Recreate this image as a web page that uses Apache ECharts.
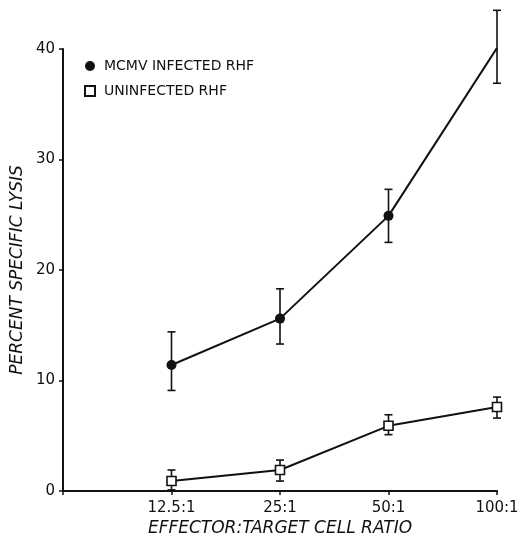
<!DOCTYPE html>
<html>
<head>
<meta charset="utf-8">
<script src="https://cdn.jsdelivr.net/npm/echarts@6/dist/echarts.min.js"></script>
<style>
  html, body { margin: 0; padding: 0; background: #fff; }
  #chart { width: 517px; height: 539px; }
</style>
</head>
<body>
<div id="chart"></div>
<script>
// ratios along the x axis (drawn at positions 1..4)
const ratioLabels = ['12.5:1', '25:1', '50:1', '100:1'];

// MCMV infected RHF
const infected = [11.4, 15.6, 24.9, 40.1];
const infectedLow = [9.1, 13.3, 22.5, 36.9];
const infectedHigh = [14.4, 18.3, 27.3, 43.5];

// uninfected RHF
const uninfected = [0.9, 1.9, 5.9, 7.6];
const uninfectedLow = [0.1, 0.9, 5.1, 6.6];
const uninfectedHigh = [1.9, 2.8, 6.9, 8.5];

const yTicks = [0, 10, 20, 30, 40];

const font = 'DejaVu Sans';
const ink = '#111';

const toPoints = vals => vals.map((v, i) => [i + 1, v]);
const toBars = (lo, hi) => lo.map((v, i) => [i + 1, v, hi[i]]);

function errorBar(params, api) {
  const x = api.value(0);
  const lo = api.coord([x, api.value(1)]);
  const hi = api.coord([x, api.value(2)]);
  const half = 4;
  const style = { stroke: ink, lineWidth: 1.6 };
  return {
    type: 'group',
    children: [
      { type: 'line', shape: { x1: lo[0], y1: lo[1], x2: hi[0], y2: hi[1] }, style },
      { type: 'line', shape: { x1: hi[0] - half, y1: hi[1], x2: hi[0] + half, y2: hi[1] }, style },
      { type: 'line', shape: { x1: lo[0] - half, y1: lo[1], x2: lo[0] + half, y2: lo[1] }, style },
    ],
  };
}

const chart = echarts.init(document.getElementById('chart'));
chart.setOption({
  animation: false,
  backgroundColor: '#fff',
  grid: { left: 63, right: 20, top: 49, bottom: 48, outerBoundsMode: 'none', containLabel: false },
  legend: {
    orient: 'vertical',
    left: 79,
    top: 53,
    itemWidth: 10,
    itemHeight: 10,
    itemGap: 9,
    selectedMode: false,
    textStyle: { fontFamily: font, fontSize: 14, color: ink, padding: [0, 0, 0, 4], lineHeight: 16 },
    data: [
      { name: 'MCMV INFECTED RHF', icon: 'circle' },
      { name: 'UNINFECTED RHF', icon: 'rect' },
    ],
  },
  xAxis: {
    type: 'value',
    min: 0,
    max: 4,
    interval: 1,
    splitLine: { show: false },
    axisLine: { lineStyle: { color: ink, width: 2 } },
    axisTick: { length: 4, lineStyle: { color: ink, width: 1.5 } },
    axisLabel: {
      margin: 10,
      fontFamily: font,
      fontSize: 15,
      color: ink,
      formatter: v => (v >= 1 ? ratioLabels[v - 1] : ''),
    },
    name: 'EFFECTOR:TARGET CELL RATIO',
    nameLocation: 'middle',
    nameGap: 29,
    nameMoveOverlap: false,
    nameTextStyle: { fontFamily: font, fontSize: 17, fontStyle: 'italic', color: ink },
  },
  yAxis: {
    type: 'value',
    min: yTicks[0],
    max: yTicks[yTicks.length - 1],
    interval: 10,
    splitLine: { show: false },
    axisLine: { show: true, lineStyle: { color: ink, width: 2 } },
    axisTick: { show: true, length: 4, lineStyle: { color: ink, width: 1.5 } },
    axisLabel: { margin: 8, fontFamily: font, fontSize: 15, color: ink },
    name: 'PERCENT SPECIFIC LYSIS',
    nameLocation: 'middle',
    nameGap: 37,
    nameMoveOverlap: false,
    nameTextStyle: { fontFamily: font, fontSize: 17, fontStyle: 'italic', color: ink },
  },
  series: [
    {
      type: 'custom',
      name: 'infected-err',
      renderItem: errorBar,
      clip: false,
      z: 1,
      data: toBars(infectedLow, infectedHigh),
    },
    {
      type: 'custom',
      name: 'uninfected-err',
      renderItem: errorBar,
      clip: false,
      z: 1,
      data: toBars(uninfectedLow, uninfectedHigh),
    },
    {
      name: 'MCMV INFECTED RHF',
      type: 'line',
      z: 3,
      data: toPoints(infected),
      symbol: 'circle',
      symbolSize: 10,
      lineStyle: { color: ink, width: 2 },
      itemStyle: { color: ink, borderColor: ink, borderWidth: 0 },
    },
    {
      name: 'UNINFECTED RHF',
      type: 'line',
      z: 3,
      data: toPoints(uninfected),
      symbol: 'rect',
      symbolSize: 9,
      lineStyle: { color: ink, width: 2 },
      itemStyle: { color: '#fff', borderColor: ink, borderWidth: 1.6 },
    },
  ],
});
</script>
</body>
</html>
